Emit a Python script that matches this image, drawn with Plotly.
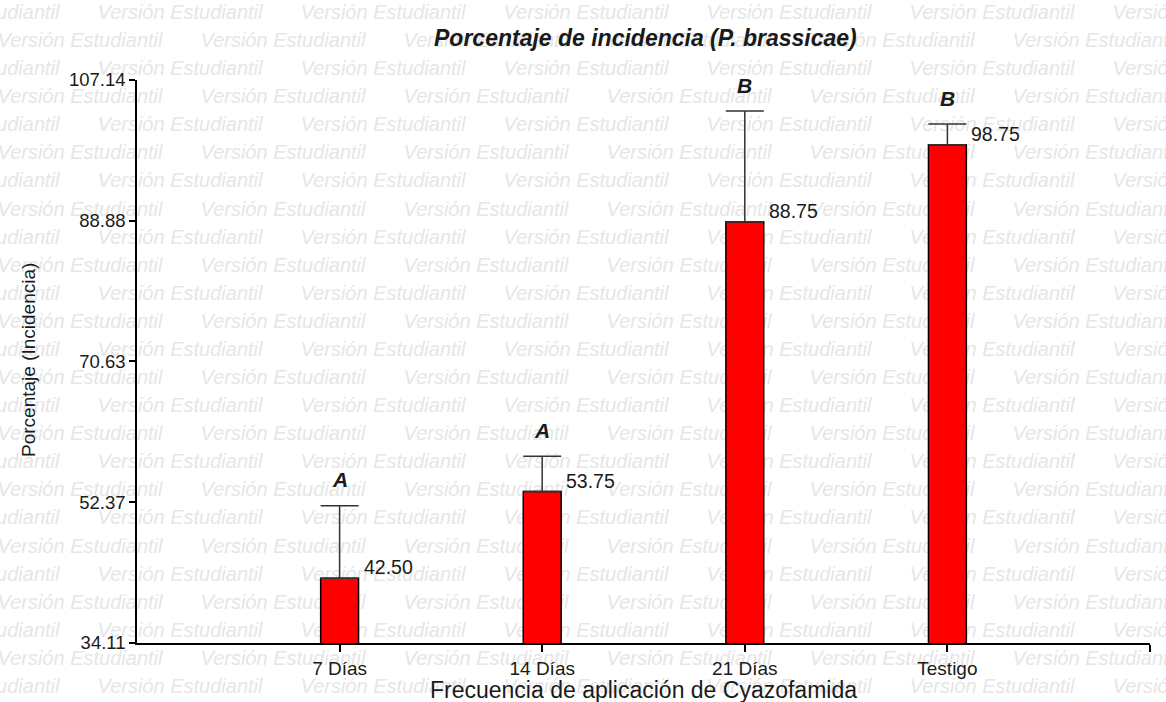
import plotly.graph_objects as go

# ---------------- data ----------------
categories = ["7 Días", "14 Días", "21 Días", "Testigo"]
incidencia = [42.50, 53.75, 88.75, 98.75]
error_sup = [9.42, 4.60, 14.36, 2.68]
letras = ["A", "A", "B", "B"]
y_ticks = [34.11, 52.37, 70.63, 88.88, 107.14]
y_tick_labels = ["34.11", "52.37", "70.63", "88.88", "107.14"]
x_pos = [1, 2, 3, 4]

W, H = 1166, 702
FONT = "Arial, Liberation Sans, sans-serif"
TXT = "#1a1a1a"

fig = go.Figure()

# ---------------- watermark (background subplot, pixel coords) ----------------
WM_HALF = 83
wx, wy, wt = [], [], []
for r in range(25):
    yc = 14 + 28.08 * r
    start = 97 if r % 2 == 0 else -3
    for k in range(-1, 7):
        xc = start + WM_HALF + 203 * k
        if xc - 95 < W and xc + 95 > 0:
            wx.append(xc)
            wy.append(yc)
            wt.append("Versión Estudiantil")
fig.add_trace(go.Scatter(
    x=wx, y=wy, text=wt, mode="text", textposition="middle center",
    textfont=dict(family=FONT, size=20, color="#e6e6e6", style="italic"),
    hoverinfo="skip", showlegend=False, cliponaxis=True,
    xaxis="x", yaxis="y"))

# ---------------- bars ----------------
fig.add_trace(go.Bar(
    x=x_pos, y=incidencia, width=0.187,
    marker=dict(color="#ff0000", line=dict(color="black", width=1.5)),
    error_y=dict(type="data", symmetric=False, array=error_sup,
                 arrayminus=[0] * len(error_sup), width=19,
                 thickness=1.5, color="#333333"),
    xaxis="x2", yaxis="y2", showlegend=False, hoverinfo="skip"))

annotations = []
for xi, v, e, l in zip(x_pos, incidencia, error_sup, letras):
    annotations.append(dict(
        x=xi, y=v, xref="x2", yref="y2", text=f"{v:.2f}",
        xanchor="left", yanchor="middle", xshift=22, yshift=11,
        showarrow=False, font=dict(family=FONT, size=19.5, color=TXT)))
    annotations.append(dict(
        x=xi, y=v + e, xref="x2", yref="y2", text=f"<b><i>{l}</i></b>",
        xanchor="center", yanchor="middle", yshift=26,
        showarrow=False, font=dict(family=FONT, size=21, color=TXT)))

# titles
annotations.append(dict(
    x=645 / W, y=1 - 38 / H, xref="paper", yref="paper",
    text="<b><i>Porcentaje de incidencia (P. brassicae)</i></b>",
    showarrow=False, xanchor="center", yanchor="middle",
    font=dict(family=FONT, size=23, color=TXT)))
annotations.append(dict(
    x=643 / W, y=1 - 690 / H, xref="paper", yref="paper",
    text="Frecuencia de aplicación de Cyazofamida",
    showarrow=False, xanchor="center", yanchor="middle",
    font=dict(family=FONT, size=23, color=TXT)))
annotations.append(dict(
    x=29 / W, y=1 - 360 / H, xref="paper", yref="paper",
    text="Porcentaje (Incidencia)", textangle=-90,
    showarrow=False, xanchor="center", yanchor="middle",
    font=dict(family=FONT, size=19, color=TXT)))

fig.update_layout(
    autosize=True,
    margin=dict(l=0, r=0, t=0, b=0),
    paper_bgcolor="white", plot_bgcolor="rgba(0,0,0,0)",
    xaxis=dict(domain=[0, 1], range=[0, W], visible=False, fixedrange=True),
    yaxis=dict(domain=[0, 1], range=[H, 0], visible=False, fixedrange=True),
    xaxis2=dict(
        domain=[137 / W, 1150 / W], range=[0, 5], anchor="y2",
        tickvals=[1, 2, 3, 4, 5], ticktext=categories + [""],
        ticks="outside", ticklen=7, tickwidth=1.5, tickcolor="black",
        showline=True, linecolor="black", linewidth=1.5,
        showgrid=False, zeroline=False, automargin=False,
        tickfont=dict(family=FONT, size=19, color=TXT)),
    yaxis2=dict(
        domain=[59 / H, 622 / H], range=[34.11, 107.14], anchor="x2",
        tickvals=y_ticks, ticktext=y_tick_labels,
        ticks="outside", ticklen=6, tickwidth=1.5, tickcolor="black",
        showline=True, linecolor="black", linewidth=1.5,
        showgrid=False, zeroline=False, automargin=False,
        tickfont=dict(family=FONT, size=18.5, color=TXT)),
    annotations=annotations,
)

fig.write_html("out.html")
